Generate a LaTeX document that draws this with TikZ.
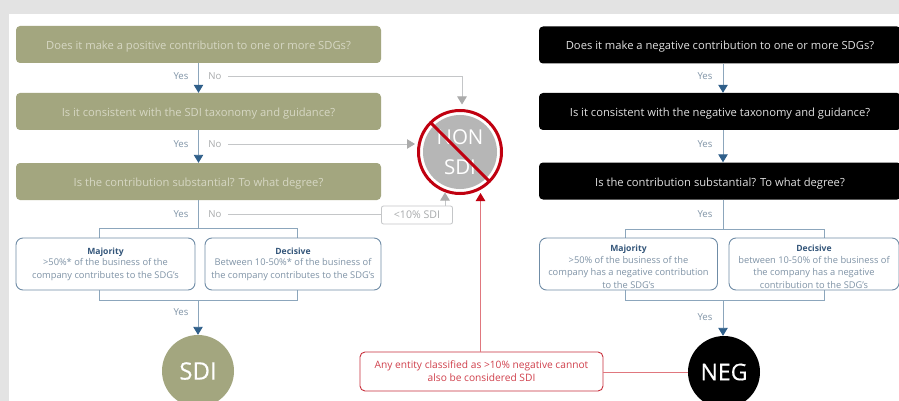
\documentclass[tikz,border=0pt]{standalone}
\usepackage{fontspec}
\setmainfont{Open Sans}
\usetikzlibrary{arrows.meta,calc}
\definecolor{olive}{HTML}{A3A67F}
\definecolor{olivetext}{HTML}{D6D7C3}
\definecolor{bluetip}{HTML}{2F5F8A}
\definecolor{blueline}{HTML}{8CA6BC}
\definecolor{boxline}{HTML}{6F8CA6}
\definecolor{bluetext}{HTML}{7F93A6}
\definecolor{headtext}{HTML}{34567A}
\definecolor{greyline}{HTML}{C4C6C8}
\definecolor{greytip}{HTML}{ABABAB}
\definecolor{greydisc}{HTML}{B6B6B6}
\definecolor{greytext}{HTML}{A8AAAC}
\definecolor{redline}{HTML}{E0777E}
\definecolor{redtext}{HTML}{D0404C}
\definecolor{redbox}{HTML}{C8303C}
\definecolor{redring}{HTML}{C00010}
\newcommand{\opthead}[1]{\textcolor{headtext}{\fontsize{8.6}{12.3}\selectfont\bfseries #1}}
\tikzset{
 x=1pt,y=-1pt,
 oq/.style={rectangle,rounded corners=4pt,fill=olive,text=olivetext,minimum width=365pt,minimum height=37pt,font=\fontsize{11.2}{13}\selectfont,inner sep=0pt,text height=10pt,text depth=0pt},
 bq/.style={rectangle,rounded corners=4pt,fill=black,text=white!88!black,minimum width=362pt,minimum height=37pt,font=\fontsize{11.2}{13}\selectfont,inner sep=0pt,text height=10pt,text depth=0pt},
 optbox/.style={rectangle,rounded corners=7pt,draw=boxline,line width=0.9pt,fill=white,text=bluetext,inner sep=0pt,align=center,font=\fontsize{9.3}{12.4}\selectfont},
 yeslab/.style={text=bluetext,font=\fontsize{9.6}{11}\selectfont,inner sep=0pt},
 nolab/.style={text=greytext,font=\fontsize{9.6}{11}\selectfont,inner sep=0pt},
 bluearrow/.style={draw=blueline,line width=0.9pt,-{Triangle[length=8pt,width=9.5pt,color=bluetip]}},
 blueconn/.style={draw=blueline,line width=0.9pt},
 greyconn/.style={draw=greyline,line width=0.8pt},
 greyarrow/.style={draw=greyline,line width=0.8pt,-{Triangle[length=8pt,width=9.5pt,color=greytip]}},
 redconn/.style={draw=redline,line width=0.9pt},
 redarrow/.style={draw=redline,line width=0.9pt,-{Triangle[length=8pt,width=9.5pt,color=redring]}}
}
\begin{document}
\begin{tikzpicture}
\useasboundingbox (0,0) rectangle (899,401);
\fill[black!11] (0,0) rectangle (899,401);
\fill[white] (9,14) rectangle (899,401);
% coordinates
\coordinate (jl) at (198,228);
\coordinate (jl2) at (198,300);
\coordinate (jr) at (723,229);
\coordinate (jr2) at (723,300);
% brackets behind the option boxes
\draw[blueconn] (99,256) -- (99,228) -- (297,228) -- (297,256);
\draw[blueconn] (99,270) -- (99,300) -- (297,300) -- (297,270);
\draw[blueconn] (625,256) -- (625,229) -- (824,229) -- (824,256);
\draw[blueconn] (625,270) -- (625,300) -- (824,300) -- (824,270);
% left questions
\node[oq] (q1) at (198.5,44.5) {Does it make a positive contribution to one or more SDGs?};
\node[oq] (q2) at (198.5,111.5) {Is it consistent with the SDI taxonomy and guidance?};
\node[oq] (q3) at (198.5,181.5) {Is the contribution substantial? To what degree?};
% right questions
\node[bq] (r1) at (720,45) {Does it make a negative contribution to one or more SDGs?};
\node[bq] (r2) at (720,111.5) {Is it consistent with the negative taxonomy and guidance?};
\node[bq] (r3) at (720,181) {Is the contribution substantial? To what degree?};
% left options
\node[optbox,minimum width=179pt,minimum height=52pt] (m1) at (105.5,264) {\opthead{Majority}\\[-1pt]>50\%* of the business of the\\company contributes to the SDG's};
\node[optbox,minimum width=176pt,minimum height=52pt] (d1) at (293,264) {\opthead{Decisive}\\[-1pt]Between 10-50\%* of the business of\\the company contributes to the SDG's};
% right options
\node[optbox,minimum width=178pt,minimum height=52pt] (m2) at (628.5,264) {\rule{0pt}{12pt}\opthead{Majority}\\[-1pt]>50\% of the business of the\\company has a negative contribution\\to the SDG's};
\node[optbox,minimum width=170pt,minimum height=52pt] (d2) at (814,264) {\rule{0pt}{12pt}\opthead{Decisive}\\[-1pt]between 10-50\% of the business of\\the company has a negative\\contribution to the SDG's};
% terminals
\node[circle,fill=olive,text=white,minimum size=72pt,inner sep=0pt,font=\fontsize{24}{26}\selectfont\addfontfeature{FakeBold=0.5}] (sdi) at (198,371) {SDI};
\node[circle,fill=black,text=white,minimum size=72pt,inner sep=0pt,font=\fontsize{23}{26}\selectfont\addfontfeature{FakeBold=0.5}] (neg) at (724,372) {NEG};
% non-SDI
\node[circle,fill=greydisc,text=white,minimum size=74pt,inner sep=0pt,align=center,font=\fontsize{20.5}{30}\selectfont] (non) at (460,152) {NON\\SDI};
\draw[redring,line width=3pt] (non.center) circle (41.5pt);
\draw[redring,line width=3pt] ($(non.center)+(-29,-29)$) -- ($(non.center)+(29,29)$);
% small boxes
\node[rectangle,rounded corners=2pt,draw=greyline,line width=0.8pt,fill=white,text=greytext,minimum width=71pt,minimum height=18pt,inner sep=0pt,font=\fontsize{10.6}{12}\selectfont] (lt) at (417,215) {<10\% SDI};
\node[rectangle,rounded corners=5pt,draw=redbox,line width=0.9pt,fill=white,text=redtext,minimum width=243pt,minimum height=39pt,inner sep=0pt,align=center,font=\fontsize{10.2}{12.8}\selectfont] (any) at (481.5,371.5) {Any entity classified as >10\% negative cannot\\also be considered SDI};
% left trunk
\draw[bluearrow] (q1.south -| q1) -- (q2.north -| q1);
\draw[bluearrow] (q2.south) -- (q3.north);
\draw[blueconn] (q3.south -| jl) -- (jl);
\draw[bluearrow] (jl2) -- (sdi.north);
% right trunk
\draw[bluearrow] (r1.south -| jr) -- (r2.north -| jr);
\draw[bluearrow] (r2.south -| jr) -- (r3.north -| jr);
\draw[blueconn] (r3.south -| jr) -- (jr);
\draw[bluearrow] (jr2) -- (neg.north -| jr2);
% no paths
\coordinate (n1) at (228,76);
\coordinate (n2) at (228,144);
\coordinate (n3) at (228,214);
\draw[greyarrow] (n1) -- (462,76) -- (462,104.5);
\draw[greyarrow] (n2) -- (415,144);
\draw[greyconn] (n3) -- (n3 -| lt.west);
\draw[greyarrow] (lt.north -| 445,0) -- (445,192.5);
% red paths
\draw[redarrow] (any.north -| 480.5,0) -- (480.5,193);
\draw[redconn] (any.east |- neg.west) -- (neg.west);
% labels
\node[yeslab] (y1) at (181,76) {Yes};
\node[nolab] (o1) at (215,76) {No};
\node[yeslab] (y2) at (181,144) {Yes};
\node[nolab] (o2) at (215,144) {No};
\node[yeslab] (y3) at (181,214) {Yes};
\node[nolab] (o3) at (215,214) {No};
\node[yeslab] (y4) at (181,312) {Yes};
\node[yeslab] (y5) at (705,76) {Yes};
\node[yeslab] (y6) at (705,144) {Yes};
\node[yeslab] (y7) at (705,214) {Yes};
\node[yeslab] (y8) at (705,317) {Yes};
\end{tikzpicture}
\end{document}
